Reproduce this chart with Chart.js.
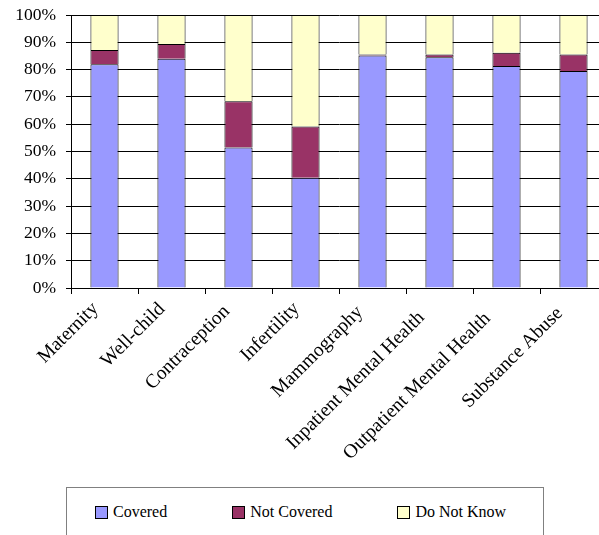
<!DOCTYPE html>
<html>
<head>
<meta charset="utf-8">
<script src="https://cdn.jsdelivr.net/npm/chart.js@4/dist/chart.umd.min.js"></script>
<style>
  html, body { margin: 0; padding: 0; background: #fff; overflow: hidden; width: 599px; height: 535px; }
  #wrap { position: absolute; left: 0; top: 0; width: 620px; height: 480px; }
  #legend {
    position: absolute; left: 66px; top: 487px; width: 478px; height: 60px;
    border: 1px solid #808080; box-sizing: border-box;
    font-family: "Liberation Serif", "Times New Roman", serif; font-size: 16px; color: #000;
    padding: 15px 0 0 28px; white-space: nowrap;
  }
  .item { display: inline-flex; align-items: center; margin-right: 65px; }
  .sw { width: 11px; height: 11px; border: 1px solid #000; margin-right: 5px; }
</style>
</head>
<body>
<div id="wrap"><canvas id="c" width="620" height="480"></canvas></div>
<div id="legend"></div>
<script>
// Coverage of services, share of responses (%)
const categories = ["Maternity", "Well-child", "Contraception", "Infertility", "Mammography",
  "Inpatient Mental Health", "Outpatient Mental Health", "Substance Abuse"];
const covered    = [82.0, 84.0, 51.5, 40.4, 85.2, 84.5, 81.3, 79.5];
const notCovered = [5.2, 5.4, 16.9, 18.8, 0.3, 1.0, 4.9, 6.0];
const doNotKnow  = [12.8, 10.6, 31.6, 40.8, 14.5, 14.5, 13.8, 14.5];
const seriesNames = ["Covered", "Not Covered", "Do Not Know"];
const seriesColors = ["#9999FF", "#993366", "#FFFFCC"];
const yTicks = [0, 10, 20, 30, 40, 50, 60, 70, 80, 90, 100];

const serif = "'Liberation Serif', 'Times New Roman', serif";
const values = [covered, notCovered, doNotKnow];

const datasets = seriesNames.map((name, i) => ({
  label: name,
  data: values[i],
  backgroundColor: seriesColors[i],
  borderColor: "#000",
  borderWidth: 1,
  barPercentage: 0.42,
  categoryPercentage: 1.0
}));

// Category names written at 45 degrees below the x axis, ending near each tick
const slantedLabels = {
  id: "slantedLabels",
  afterDraw(chart) {
    const sc = chart.scales.x;
    const ctx = chart.ctx;
    ctx.save();
    ctx.font = "19.5px " + serif;
    ctx.fillStyle = "#000";
    ctx.textAlign = "right";
    ctx.textBaseline = "alphabetic";
    chart.data.labels.forEach((lab, i) => {
      const x = sc.getPixelForTick(i) + 0.75;
      const y = sc.top + 15.25;
      const w = ctx.measureText(lab).width;
      ctx.save();
      ctx.translate(x, y);
      ctx.rotate(-Math.PI / 4);
      ctx.fillText(lab, -0.114 * w, 0);
      ctx.restore();
    });
    ctx.restore();
  }
};

new Chart(document.getElementById("c"), {
  type: "bar",
  data: { labels: categories, datasets },
  plugins: [slantedLabels],
  options: {
    responsive: false,
    animation: false,
    devicePixelRatio: 1,
    layout: { padding: { top: 15, right: 13, bottom: 0, left: 0 } },
    plugins: { legend: { display: false }, tooltip: { enabled: false } },
    scales: {
      x: {
        stacked: true,
        grid: { offset: true, drawOnChartArea: false, drawTicks: true, tickLength: 6, color: "#000" },
        border: { color: "#000", width: 1 },
        ticks: { display: false },
        afterFit: s => { s.height = 192; }
      },
      y: {
        stacked: true, min: 0, max: 100,
        afterBuildTicks: s => { s.ticks = yTicks.map(v => ({ value: v })); },
        grid: { color: "#000", lineWidth: 1, tickLength: 5 },
        border: { color: "#000", width: 1 },
        ticks: {
          padding: 10, color: "#000", font: { family: serif, size: 17.5, lineHeight: 0.5 },
          callback: v => v + "%"
        },
        afterFit: s => { s.width = 71; }
      }
    }
  }
});

// Legend row built from the series definitions
const legend = document.getElementById("legend");
seriesNames.forEach((name, i) => {
  const item = document.createElement("span");
  item.className = "item";
  const sw = document.createElement("span");
  sw.className = "sw";
  sw.style.background = seriesColors[i];
  const tx = document.createElement("span");
  tx.textContent = name;
  item.appendChild(sw);
  item.appendChild(tx);
  legend.appendChild(item);
});
</script>
</body>
</html>
